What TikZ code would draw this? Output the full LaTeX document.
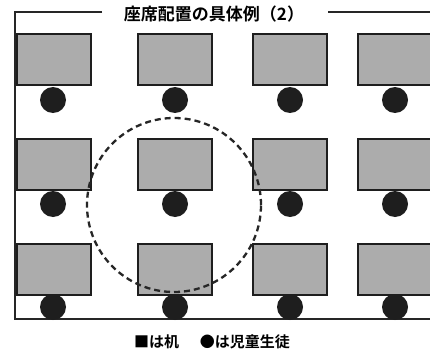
\documentclass[tikz,border=0pt]{standalone}
\usepackage{fontspec}
\newfontfamily\jp{Noto Sans CJK JP}[BoldFont={* Bold}]
\definecolor{deskgray}{RGB}{172,172,172}
\definecolor{deskline}{RGB}{30,30,30}
\definecolor{pupil}{RGB}{30,30,30}
\begin{document}
\begin{tikzpicture}[x=1pt,y=-1pt,
  desk/.style={draw=deskline,fill=deskgray,line width=2pt,minimum width=74pt,minimum height=51pt,inner sep=0pt,outer sep=0pt,rectangle},
  pupilnode/.style={circle,fill=pupil,minimum size=26pt,inner sep=0pt,outer sep=0pt},
  frameline/.style={line width=2pt,draw=black!85},
  zone/.style={line width=2.3pt,dash pattern=on 6pt off 4pt,draw=black!85}]
\useasboundingbox (0,0) rectangle (430,350);
\clip (0,0) rectangle (430,350);
\fill[white] (0,0) rectangle (430,350);
% frame
\node[font=\jp\bfseries\fontsize{17}{19}\selectfont,inner sep=0pt] (title) at (214,14) {座席配置の具体例（2）};
\coordinate (tl) at (15,12);
\coordinate (tm) at (102,12);
\coordinate (tr0) at (328,12);
\coordinate (tr1) at (431,12);
\coordinate (bl) at (15,319);
\coordinate (br) at (431,319);
\draw[frameline] (tm) -- (tl) -- (bl) -- (br);
\draw[frameline] (tr0) -- (tr1);
% desks
\foreach \r/\y in {1/60,2/164,3/269}{
  \foreach \c/\x in {1/53.5,2/174.5,3/290,4/394.5}{
    \node[desk] (d\r\c) at (\x,\y) {};
  }
}
% pupils
\foreach \r/\y in {1/100,2/204,3/307}{
  \foreach \c/\x in {1/53,2/175,3/290,4/395}{
    \node[pupilnode] (s\r\c) at (\x,\y) {};
  }
}
% zone
\node[circle,zone,minimum size=174pt,inner sep=0pt] (zonec) at (174,205) {};
% legend
\node[font=\jp\bfseries\fontsize{15}{17}\selectfont,inner sep=0pt] (legend) at (212,342) {■は机\hspace{1.4em}●は児童生徒};
\end{tikzpicture}
\end{document}
